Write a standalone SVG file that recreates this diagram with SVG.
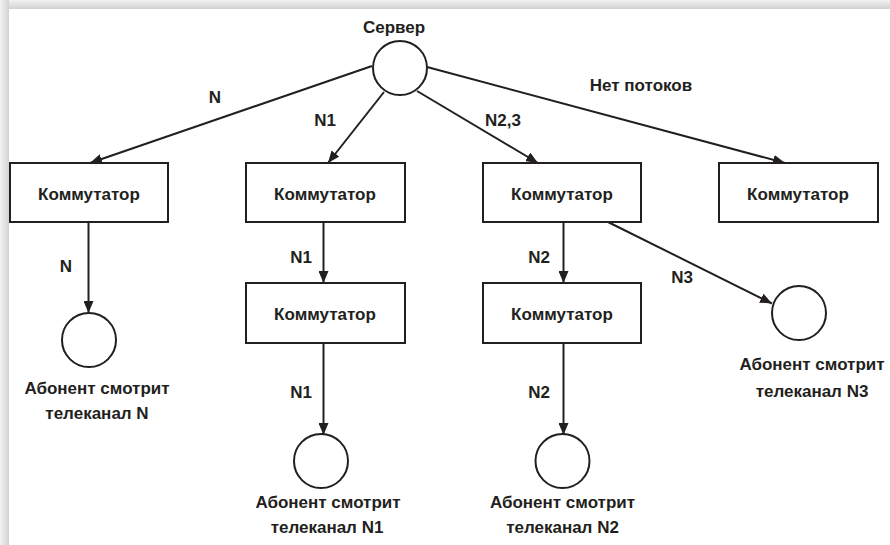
<svg xmlns="http://www.w3.org/2000/svg" width="890" height="545" viewBox="0 0 890 545">
  <defs>
    <linearGradient id="gTop" x1="0" y1="0" x2="0" y2="1">
      <stop offset="0" stop-color="#f2f2f2"/>
      <stop offset="1" stop-color="#d2d2d2"/>
    </linearGradient>
    <linearGradient id="gLeft" x1="0" y1="0" x2="1" y2="0">
      <stop offset="0" stop-color="#f2f2f2"/>
      <stop offset="1" stop-color="#d2d2d2"/>
    </linearGradient>
    <marker id="arr" markerUnits="userSpaceOnUse" viewBox="0 0 12 10" refX="12" refY="5" markerWidth="12" markerHeight="10" orient="auto">
      <path d="M0,0 L12,5 L0,10 z" fill="#231f20"/>
    </marker>
  </defs>
  <style>
    .box { fill: #ffffff; stroke: #231f20; stroke-width: 2; }
    .node { fill: #ffffff; stroke: #231f20; stroke-width: 2; }
    .edge { stroke: #231f20; stroke-width: 2; fill: none; marker-end: url(#arr); }
    text { font-family: "Liberation Sans", Arial, sans-serif; font-weight: bold; font-size: 17px; fill: #231f20; text-anchor: middle; }
  </style>
  <rect x="0" y="0" width="890" height="545" fill="#ffffff"/>
  <rect x="0" y="0" width="890" height="9" fill="url(#gTop)"/>
  <rect x="0" y="0" width="9" height="545" fill="url(#gLeft)"/>
  <rect x="9" y="9" width="881" height="536" fill="#ffffff"/>

  <g id="connectors">
    <line class="edge" x1="372" y1="66" x2="90" y2="163"/>
    <line class="edge" x1="384" y1="92" x2="328" y2="163"/>
    <line class="edge" x1="417" y1="91" x2="538" y2="163"/>
    <line class="edge" x1="427" y1="67" x2="785" y2="163"/>
    <line class="edge" x1="88.5" y1="222" x2="88.5" y2="313"/>
    <line class="edge" x1="323.5" y1="222" x2="323.5" y2="283"/>
    <line class="edge" x1="563.5" y1="222" x2="563.5" y2="283"/>
    <line class="edge" x1="323.5" y1="343" x2="323.5" y2="435"/>
    <line class="edge" x1="563.5" y1="343" x2="563.5" y2="435"/>
    <line class="edge" x1="608" y1="222" x2="772" y2="303.5"/>
    <text x="215" y="103">N</text>
    <text x="325" y="126">N1</text>
    <text x="503" y="126">N2,3</text>
    <text x="641" y="91">Нет потоков</text>
    <text x="66" y="272">N</text>
    <text x="301" y="263">N1</text>
    <text x="539" y="263">N2</text>
    <text x="301" y="398">N1</text>
    <text x="539" y="398">N2</text>
    <text x="682" y="283">N3</text>
  </g>

  <g id="server">
    <circle class="node" cx="400" cy="68" r="27"/>
    <text x="394" y="33">Сервер</text>
  </g>

  <g id="switch1">
    <rect class="box" x="10" y="163" width="158" height="59"/>
    <text x="89" y="200">Коммутатор</text>
  </g>
  <g id="switch2">
    <rect class="box" x="246" y="163" width="159" height="59"/>
    <text x="325" y="200">Коммутатор</text>
  </g>
  <g id="switch3">
    <rect class="box" x="483" y="163" width="158" height="59"/>
    <text x="562" y="200">Коммутатор</text>
  </g>
  <g id="switch4">
    <rect class="box" x="719" y="163" width="159" height="59"/>
    <text x="798" y="200">Коммутатор</text>
  </g>
  <g id="switch2b">
    <rect class="box" x="246" y="283" width="159" height="60"/>
    <text x="325" y="320">Коммутатор</text>
  </g>
  <g id="switch3b">
    <rect class="box" x="483" y="283" width="158" height="60"/>
    <text x="562" y="320">Коммутатор</text>
  </g>

  <g id="subscriber-n">
    <circle class="node" cx="89" cy="340" r="27"/>
    <text x="97" y="394">Абонент смотрит</text>
    <text x="97" y="419">телеканал N</text>
  </g>
  <g id="subscriber-n1">
    <circle class="node" cx="321" cy="461" r="27"/>
    <text x="328" y="508">Абонент смотрит</text>
    <text x="327" y="533">телеканал N1</text>
  </g>
  <g id="subscriber-n2">
    <circle class="node" cx="562.5" cy="461" r="27"/>
    <text x="562.5" y="508">Абонент смотрит</text>
    <text x="562.5" y="533">телеканал N2</text>
  </g>
  <g id="subscriber-n3">
    <circle class="node" cx="799" cy="313" r="27"/>
    <text x="812" y="370">Абонент смотрит</text>
    <text x="812" y="397">телеканал N3</text>
  </g>
</svg>
